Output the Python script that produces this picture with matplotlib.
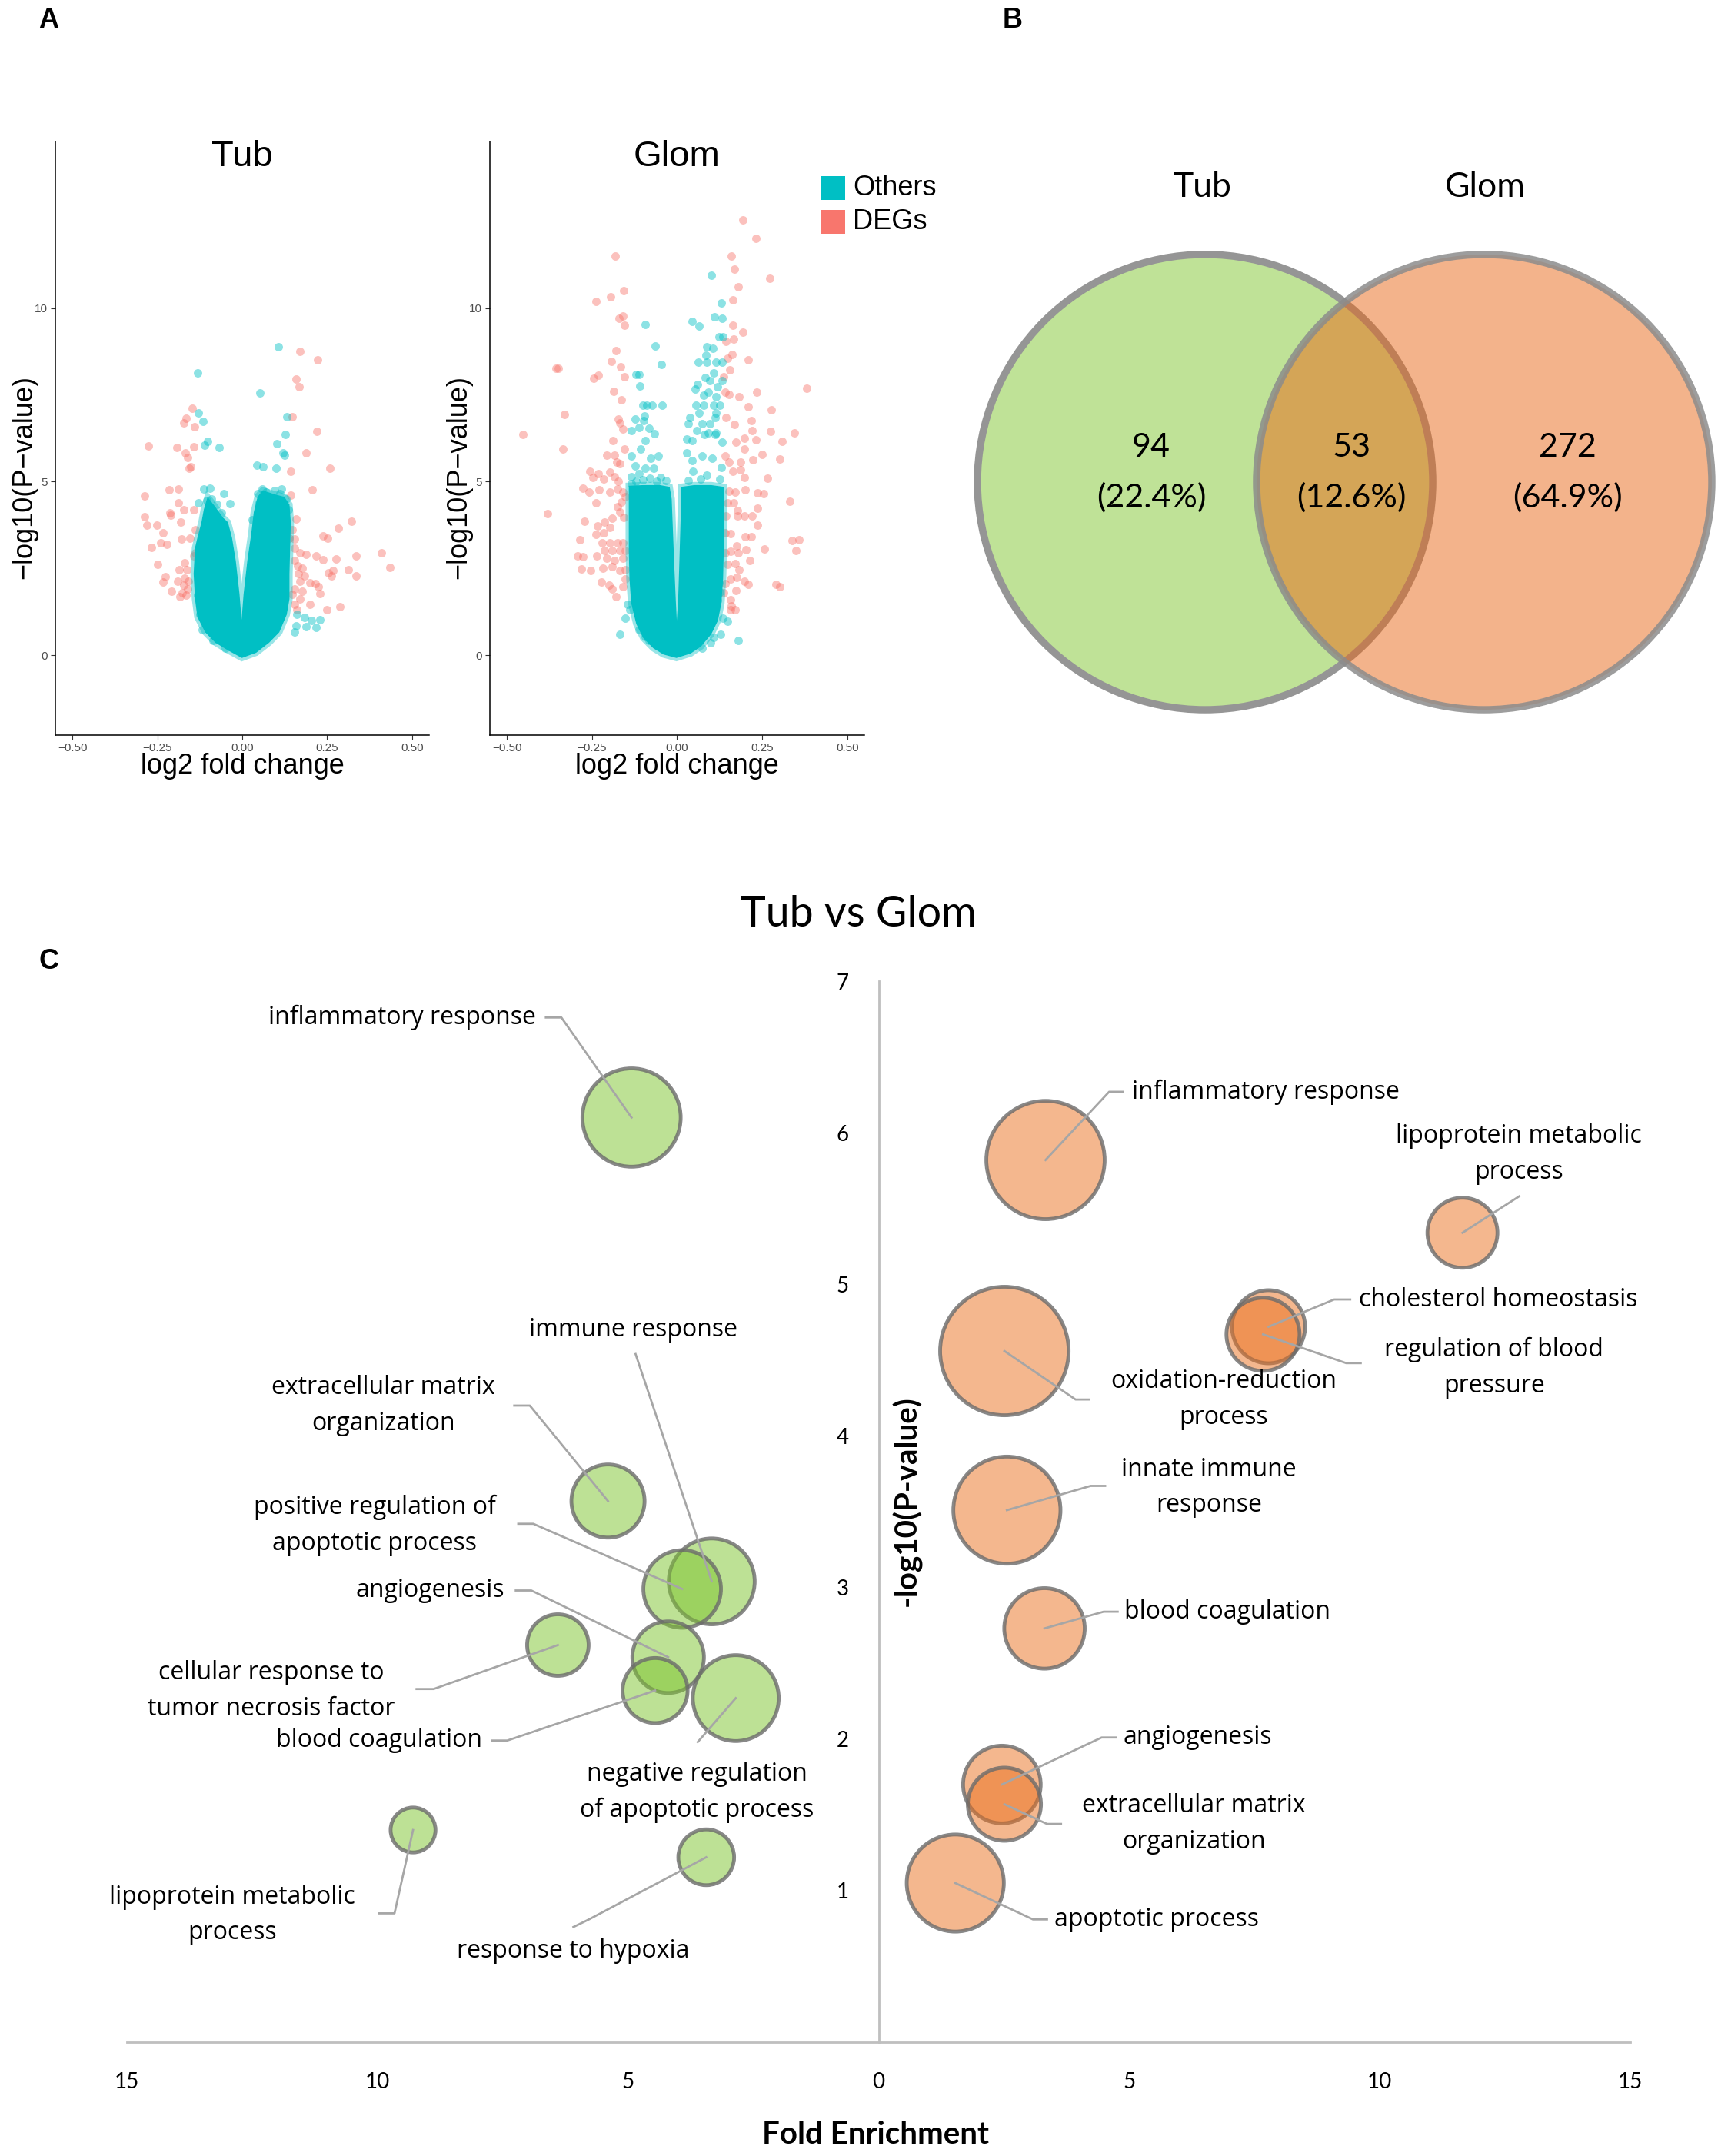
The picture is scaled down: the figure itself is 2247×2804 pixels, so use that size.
import numpy as np
import matplotlib.pyplot as plt
from matplotlib.patches import Circle, Rectangle
from matplotlib.ticker import FuncFormatter

plt.rcParams['font.family'] = ['Lato', 'DejaVu Sans']
plt.rcParams['axes.unicode_minus'] = True

# ---------------- A : volcano plots (log2FC, -log10 p) ----------------
# red = DEGs, cyan = others, "core" = outline of the dense cyan cloud
tub_deg = np.array([
    (0.170, 8.75), (0.221, 8.51), (0.158, 7.96), (0.167, 7.74), (0.146, 6.87), (0.219, 6.45),
    (0.188, 5.83), (0.258, 5.38), (0.143, 5.30), (0.207, 4.76), (0.143, 4.62), (0.159, 3.92),
    (0.321, 3.85), (0.282, 3.66), (0.237, 3.44), (0.252, 3.38), (0.410, 2.96), (0.336, 2.87),
    (0.276, 2.77), (0.218, 2.85), (0.238, 2.74), (0.154, 3.09), (0.169, 2.96), (0.188, 2.91),
    (0.434, 2.52), (0.313, 2.46), (0.268, 2.44), (0.253, 2.37), (0.263, 2.28), (0.334, 2.29),
    (0.154, 2.72), (0.162, 2.57), (0.176, 2.50), (0.165, 2.35), (0.184, 2.28), (0.199, 2.09),
    (0.214, 2.06), (0.225, 1.98), (0.169, 2.13), (0.154, 1.91), (0.176, 1.84), (0.228, 1.78),
    (0.199, 1.47), (0.250, 1.30), (0.287, 1.39), (0.154, 1.47), (0.169, 1.62), (0.146, 1.76),
    (0.161, 1.32), (0.146, 3.61), (0.154, 3.35), (0.139, 3.38),
    (-0.148, 7.11), (-0.166, 6.83), (-0.173, 6.69), (-0.141, 6.58), (-0.277, 6.03), (-0.192, 5.99),
    (-0.142, 6.00), (-0.168, 5.83), (-0.160, 5.69), (-0.152, 5.43), (-0.156, 5.38), (-0.214, 4.76),
    (-0.187, 4.79), (-0.288, 4.59), (-0.187, 4.40), (-0.172, 4.20), (-0.213, 4.11), (-0.210, 4.03),
    (-0.287, 3.99), (-0.281, 3.74), (-0.251, 3.74), (-0.181, 3.84), (-0.233, 3.52), (-0.178, 3.35),
    (-0.154, 3.37), (-0.241, 3.24), (-0.222, 3.20), (-0.267, 3.11), (-0.139, 2.94), (-0.143, 2.87),
    (-0.169, 2.67), (-0.248, 2.61), (-0.186, 2.46), (-0.163, 2.46), (-0.226, 2.26), (-0.233, 2.11),
    (-0.190, 2.13), (-0.169, 2.21), (-0.158, 2.13), (-0.173, 2.02), (-0.160, 1.91), (-0.209, 1.85),
    (-0.177, 1.80), (-0.184, 1.69), (-0.166, 1.73), (-0.139, 3.61), (-0.143, 4.20)])
tub_other = np.array([
    (0.106, 8.89), (-0.131, 8.13), (0.052, 7.55), (-0.128, 6.98), (-0.115, 6.74), (-0.102, 6.17),
    (-0.112, 6.04), (-0.069, 5.98), (0.131, 6.87), (0.126, 6.37), (0.102, 6.09), (0.120, 5.82),
    (0.124, 5.76), (0.042, 5.47), (0.060, 5.44), (0.100, 5.38), (0.058, 4.79), (0.045, 4.66),
    (0.095, 4.75), (0.116, 4.79), (-0.054, 4.66), (-0.036, 4.37), (-0.130, 4.40), (-0.094, 4.82),
    (-0.113, 4.79), (0.161, 1.17), (0.184, 1.10), (0.203, 0.99), (0.229, 1.02), (0.158, 0.84),
    (0.188, 0.82), (0.218, 0.79), (0.154, 0.66), (-0.132, 1.73), (-0.124, 1.17), (-0.117, 0.74),
    (-0.087, 0.43), (-0.049, 0.21), (-0.090, 4.50), (-0.075, 4.35), (-0.105, 4.45), (-0.060, 4.10),
    (0.070, 4.70), (0.085, 4.55), (0.110, 4.65), (0.130, 4.50), (0.135, 4.20), (0.050, 4.40),
    (0.030, 3.90)])
tub_core_x = [-0.001, -0.042, -0.079, -0.109, -0.132, -0.139, -0.143, -0.139, -0.132, -0.120, -0.113, -0.102,
              -0.079, -0.057, -0.042, -0.030, -0.019, -0.008, -0.002, 0.004, 0.015, 0.026, 0.034, 0.045,
              0.060, 0.094, 0.124, 0.139, 0.143, 0.141, 0.139, 0.139, 0.131, 0.109, 0.079, 0.041]
tub_core_y = [-0.08, 0.14, 0.36, 0.66, 1.10, 1.62, 2.35, 3.09, 3.38, 3.83, 4.20, 4.56,
              4.27, 3.97, 3.83, 3.38, 2.72, 1.76, 1.02, 1.76, 2.72, 3.46, 4.12, 4.56,
              4.75, 4.64, 4.56, 4.34, 3.83, 3.09, 2.35, 1.62, 1.17, 0.66, 0.36, 0.07]

glom_deg = np.array([
    (-0.182, 11.50), (-0.157, 10.50), (-0.195, 10.32), (-0.239, 10.19), (-0.170, 9.71), (-0.159, 9.78),
    (-0.155, 9.51), (-0.180, 8.77), (-0.194, 8.47), (-0.165, 8.30), (-0.350, 8.27), (-0.356, 8.27),
    (-0.231, 8.06), (-0.246, 7.97), (-0.155, 8.02), (-0.186, 7.61), (-0.164, 7.35), (-0.332, 6.94),
    (-0.453, 6.36), (-0.173, 6.81), (-0.168, 6.70), (-0.160, 6.52),
    (0.192, 12.53), (0.232, 12.01), (0.160, 11.49), (0.169, 11.13), (0.272, 10.85), (0.179, 10.61),
    (0.163, 10.24), (0.164, 9.51), (0.192, 9.31), (0.165, 9.11), (0.143, 9.03), (0.162, 8.66),
    (0.147, 8.55), (0.208, 8.52), (0.155, 8.22), (0.137, 8.02), (0.380, 7.70), (0.233, 7.59),
    (0.182, 7.44), (0.141, 7.59), (0.152, 7.51), (0.210, 7.16), (0.276, 7.06), (0.143, 6.84),
    (0.168, 6.64), (0.218, 6.75), (0.220, 6.48), (0.274, 6.44), (0.344, 6.41), (0.664, 5.61),
    (-0.335, 5.95), (-0.189, 6.19), (-0.155, 5.94), (-0.206, 5.77), (-0.185, 5.77), (-0.178, 5.56),
    (-0.168, 5.52), (-0.381, 4.08), (-0.257, 5.30), (-0.247, 5.12), (-0.232, 5.23), (-0.215, 5.08),
    (-0.198, 5.27), (-0.277, 4.81), (-0.258, 4.71), (-0.230, 4.76), (-0.198, 4.71), (-0.239, 4.40),
    (-0.183, 5.15), (-0.172, 5.01), (-0.176, 4.79), (-0.160, 4.71), (-0.153, 4.57), (-0.164, 4.42),
    (-0.176, 4.27), (-0.168, 4.12), (-0.157, 3.97), (-0.272, 3.85), (-0.234, 3.73), (-0.213, 3.83),
    (-0.191, 3.94), (-0.239, 3.49), (-0.215, 3.53), (-0.198, 3.68), (-0.285, 3.33), (-0.221, 3.24),
    (-0.198, 3.24), (-0.176, 3.24), (-0.160, 3.24), (-0.213, 3.02), (-0.191, 3.02), (-0.168, 3.02),
    (-0.153, 3.02), (-0.292, 2.85), (-0.277, 2.83), (-0.236, 2.85), (-0.206, 2.79), (-0.183, 2.72),
    (-0.160, 2.79), (-0.281, 2.48), (-0.253, 2.45), (-0.217, 2.50), (-0.191, 2.54), (-0.168, 2.43),
    (-0.153, 2.46), (-0.222, 2.11), (-0.200, 2.03), (-0.191, 1.91), (-0.179, 1.69), (-0.160, 1.98),
    (-0.153, 2.20),
    (0.173, 6.15), (0.197, 6.26), (0.232, 6.21), (0.308, 6.17), (0.197, 5.94), (0.250, 5.78),
    (0.302, 5.66), (0.223, 5.62), (0.141, 5.74), (0.152, 5.56), (0.186, 5.56), (0.163, 5.30),
    (0.186, 5.34), (0.197, 5.12), (0.265, 5.10), (0.152, 4.73), (0.171, 4.71), (0.201, 4.76),
    (0.237, 4.67), (0.253, 4.65), (0.332, 4.43), (0.148, 4.38), (0.167, 4.38), (0.236, 4.23),
    (0.178, 4.17), (0.144, 4.01), (0.177, 4.01), (0.197, 4.01), (0.220, 4.01), (0.235, 3.74),
    (0.141, 3.52), (0.158, 3.50), (0.201, 3.41), (0.218, 3.42), (0.338, 3.31), (0.357, 3.33),
    (0.175, 3.16), (0.141, 2.96), (0.156, 3.00), (0.180, 2.94), (0.202, 3.04), (0.257, 3.07),
    (0.350, 3.02), (0.214, 2.72), (0.148, 2.61), (0.171, 2.65), (0.182, 2.46), (0.156, 2.20),
    (0.176, 2.24), (0.197, 2.13), (0.208, 2.04), (0.141, 2.06), (0.291, 2.04), (0.302, 1.97),
    (0.173, 1.87), (0.137, 1.80), (0.158, 1.59), (0.159, 1.43), (0.156, 1.30), (0.171, 1.30)])
glom_other = np.array([
    (-0.094, 9.52), (-0.065, 8.91), (-0.046, 8.37), (-0.121, 8.09), (-0.112, 8.09), (-0.109, 7.75),
    (-0.100, 7.21), (-0.089, 7.21), (-0.074, 7.21), (-0.044, 7.21), (-0.095, 6.90), (-0.124, 6.80),
    (-0.098, 6.75), (-0.083, 6.54), (-0.134, 6.47), (-0.112, 6.57), (-0.066, 6.39),
    (0.100, 10.94), (0.129, 10.15), (0.110, 9.75), (0.132, 9.71), (0.044, 9.62), (0.065, 9.48),
    (0.124, 9.17), (0.135, 9.17), (0.086, 8.88), (0.105, 8.84), (0.084, 8.64), (0.063, 8.44),
    (0.086, 8.44), (0.113, 8.44), (0.132, 8.44), (0.108, 8.13), (0.082, 7.99), (0.095, 7.92),
    (0.118, 7.74), (0.132, 7.92), (0.052, 7.66), (0.059, 7.81), (0.077, 7.48), (0.092, 7.59),
    (0.114, 7.44), (0.056, 7.20), (0.079, 7.20), (0.107, 7.20), (0.126, 7.20), (0.064, 6.98),
    (0.114, 6.98), (0.038, 6.84), (0.032, 6.67), (0.073, 6.67), (0.096, 6.67), (0.111, 6.85),
    (0.058, 6.48), (0.092, 6.41), (0.114, 6.41),
    (-0.168, 0.60), (-0.153, 1.06), (-0.138, 1.32), (-0.145, 1.47), (-0.112, 0.74), (-0.093, 0.54),
    (-0.082, 0.43), (-0.134, 5.74), (-0.123, 5.45), (-0.134, 5.15), (-0.108, 5.93), (-0.093, 6.19),
    (-0.078, 5.67), (-0.055, 5.74), (-0.070, 5.38), (-0.048, 5.12), (-0.033, 5.04), (-0.093, 5.38),
    (-0.112, 5.23), (-0.120, 5.00), (-0.100, 5.05), (-0.060, 5.00), (-0.135, 4.95), (-0.080, 5.10),
    (0.180, 0.42), (0.148, 0.97), (0.135, 1.06), (0.127, 0.60), (0.099, 0.36), (0.073, 0.21),
    (0.107, 0.51), (0.118, 1.58), (0.126, 1.83), (0.122, 2.09), (0.028, 6.22), (0.043, 6.19),
    (0.080, 6.37), (0.111, 6.37), (0.133, 6.15), (0.028, 5.82), (0.043, 5.60), (0.073, 5.74),
    (0.103, 5.67), (0.129, 5.41), (0.047, 5.30), (0.088, 5.19), (0.126, 5.08), (0.032, 5.04),
    (0.069, 5.08)])
glom_core_x = [-0.002, -0.04, -0.07, -0.10, -0.12, -0.135, -0.14, -0.142, -0.142, -0.142, -0.142, -0.10,
               -0.05, -0.022, -0.016, -0.012, -0.008, -0.004, -0.001, 0.003, 0.006, 0.009, 0.012, 0.012,
               0.05, 0.10, 0.137, 0.138, 0.137, 0.135, 0.13, 0.12, 0.10, 0.07, 0.04]
glom_core_y = [-0.08, 0.02, 0.2, 0.5, 0.9, 1.5, 2.2, 3.0, 3.8, 4.5, 4.88, 4.9,
               4.9, 4.85, 4.5, 3.5, 2.5, 1.6, 1.0, 1.6, 2.5, 3.5, 4.5, 4.85,
               4.9, 4.9, 4.85, 4.0, 3.0, 2.2, 1.5, 1.0, 0.6, 0.25, 0.05]
vol_xticks = [-0.50, -0.25, 0.00, 0.25, 0.50]
vol_yticks = [0, 5, 10]

# ---------------- B : venn counts ----------------
venn_names = ['Tub', 'Glom']
venn_counts = [94, 53, 272]   # Tub only, both, Glom only

# ---------------- C : GO terms (fold enrichment, -log10 p, gene count) ----------------
tub_terms = ['inflammatory response', 'extracellular matrix\norganization', 'immune response',
             'positive regulation of\napoptotic process', 'angiogenesis',
             'cellular response to\ntumor necrosis factor', 'blood coagulation',
             'negative regulation\nof apoptotic process', 'lipoprotein metabolic\nprocess',
             'response to hypoxia']
tub_fe = [4.93, 5.40, 3.33, 3.92, 4.20, 6.40, 4.46, 2.85, 9.29, 3.44]
tub_logp = [6.10, 3.57, 3.04, 2.99, 2.54, 2.62, 2.32, 2.27, 1.40, 1.22]
tub_count = [44, 25, 34, 28, 24, 18, 20, 34, 10, 15]

glom_terms = ['inflammatory response', 'lipoprotein metabolic\nprocess', 'cholesterol homeostasis',
              'regulation of blood\npressure', 'oxidation-reduction\nprocess', 'innate immune\nresponse',
              'blood coagulation', 'angiogenesis', 'extracellular matrix\norganization',
              'apoptotic process']
glom_fe = [3.33, 11.65, 7.78, 7.67, 2.51, 2.56, 3.31, 2.46, 2.51, 1.53]
glom_logp = [5.82, 5.34, 4.72, 4.67, 4.56, 3.51, 2.73, 1.70, 1.57, 1.05]
glom_count = [63, 23, 25, 25, 74, 52, 30, 28, 25, 43]

# label placement (x, y, ha) and leader-line elbows, same order as the terms
tub_lab = [(-6.84, 6.76, 'right'), (-9.88, 4.20, 'center'), (-4.89, 4.70, 'center'),
           (-10.06, 3.41, 'center'), (-7.47, 2.98, 'right'), (-12.12, 2.32, 'center'),
           (-7.91, 1.99, 'right'), (-3.63, 1.65, 'center'), (-12.90, 0.84, 'center'),
           (-6.10, 0.60, 'center')]
tub_leader = [[(-6.64, 6.76), (-6.33, 6.76)], [(-7.27, 4.20), (-6.96, 4.20)], [(-4.85, 4.54)],
              [(-7.19, 3.42), (-6.89, 3.42)], [(-7.24, 2.98), (-6.93, 2.98)],
              [(-9.22, 2.33), (-8.88, 2.33)], [(-7.71, 1.99), (-7.41, 1.99)], [(-3.61, 1.98)],
              [(-9.97, 0.85), (-9.66, 0.85)], [(-6.09, 0.76), (-5.78, 0.81)]]
glom_lab = [(5.05, 6.27, 'left'), (12.78, 5.86, 'center'), (9.58, 4.90, 'left'),
            (12.28, 4.45, 'center'), (6.89, 4.24, 'center'), (6.59, 3.66, 'center'),
            (4.91, 2.84, 'left'), (4.88, 2.01, 'left'), (6.29, 1.44, 'center'), (3.51, 0.81, 'left')]
glom_leader = [[(4.88, 6.27), (4.60, 6.27)], [(12.78, 5.58)], [(9.41, 4.90), (9.09, 4.90)],
               [(9.62, 4.48), (9.33, 4.48)], [(4.20, 4.24), (3.93, 4.24)], [(4.52, 3.67), (4.23, 3.67)],
               [(4.77, 2.84), (4.49, 2.84)], [(4.74, 2.01), (4.45, 2.01)], [(3.64, 1.44), (3.36, 1.44)],
               [(3.36, 0.81), (3.08, 0.81)]]


W, H = 2247, 2804
fig = plt.figure(figsize=(W / 100, H / 100), dpi=100)


def box(x0, y0, x1, y1):
    # pixel box (top-left origin) -> figure fraction
    return [x0 / W, 1 - y1 / H, (x1 - x0) / W, (y1 - y0) / H]


ARIAL = ['Liberation Sans', 'DejaVu Sans']


def volcano(pos, title, deg, other, core_x, core_y):
    ax = fig.add_axes(pos)
    ax.scatter(deg[:, 0], deg[:, 1], s=62, color='#F8766D', alpha=0.45, linewidths=0, zorder=2)
    ax.fill(core_x, core_y, facecolor='#00BFC4', edgecolor=(0, 0.75, 0.77, 0.4), linewidth=6, zorder=3)
    ax.scatter(other[:, 0], other[:, 1], s=62, color='#00BFC4', alpha=0.45, linewidths=0, zorder=4)
    ax.set_xlim(-0.55, 0.55)
    ax.set_ylim(-2.3, 14.8)
    ax.set_xticks(vol_xticks)
    ax.set_xticklabels([f'{v:.2f}'.replace('-', '\u2212') for v in vol_xticks])
    ax.set_yticks(vol_yticks)
    for s in ['top', 'right']:
        ax.spines[s].set_visible(False)
    for s in ['left', 'bottom']:
        ax.spines[s].set_linewidth(1.1)
    ax.tick_params(length=4, width=0.8, color='#333333', labelsize=11, labelcolor='#4D4D4D',
                   pad=3, labelfontfamily='Liberation Sans')
    ax.set_xlabel('log2 fold change', fontsize=26, family=ARIAL, va='center')
    ax.xaxis.set_label_coords(0.5, -0.053)
    ax.set_ylabel('\u2212log10(P\u2212value)', fontsize=26, family=ARIAL, va='center')
    ax.yaxis.set_label_coords(-0.082, 0.435)
    ax.text(0.5, 0.974, title, transform=ax.transAxes, ha='center', va='center',
            fontsize=34, family=ARIAL)
    return ax


volcano(box(72, 184, 558, 956), 'Tub', tub_deg, tub_other, tub_core_x, tub_core_y)
volcano(box(637, 184, 1124, 956), 'Glom', glom_deg, glom_other, glom_core_x, glom_core_y)

# legend
for yy, col, name in [(229, '#00BFC4', 'Others'), (273, '#F8766D', 'DEGs')]:
    fig.add_artist(Rectangle((1068 / W, 1 - (yy + 31) / H), 31 / W, 31 / H,
                             transform=fig.transFigure, color=col, lw=0))
    fig.text(1109 / W, 1 - (yy + 15) / H, name, fontsize=26, family=ARIAL, va='center')

# ---------------- B ----------------
axv = fig.add_axes(box(1250, 150, 2247, 1000))
axv.set_xlim(-1.684, 1.684)
axv.set_ylim(-1.260, 1.611)
axv.axis('off')
axv.add_patch(Circle((-0.613, 0), 1, facecolor='#BFE297', edgecolor='#959595', lw=6.8))
axv.add_patch(Circle((0.613, 0), 1, facecolor=(233 / 255, 105 / 255, 25 / 255, 0.5),
                     edgecolor=(0.55, 0.55, 0.55, 0.85), lw=6.8))
axv.text(-0.627, 1.294, venn_names[0], fontsize=32, ha='center', va='center')
axv.text(0.617, 1.294, venn_names[1], fontsize=32, ha='center', va='center')
total = sum(venn_counts)
for xx, n in zip([-0.85, 0.03, 0.98], venn_counts):
    axv.text(xx, 0.152, str(n), fontsize=31, ha='center', va='center')
    axv.text(xx, -0.068, f'({n / total * 100:.1f}%)', fontsize=31, ha='center', va='center')

# ---------------- C ----------------
axc = fig.add_axes(box(165, 1276, 2120, 2656))
axc.set_xlim(-15, 15)
axc.set_ylim(0, 7)
for s in ['top', 'right']:
    axc.spines[s].set_visible(False)
axc.spines['left'].set_position(('data', 0))
for s in ['left', 'bottom']:
    axc.spines[s].set_color('#BFBFBF')
    axc.spines[s].set_linewidth(2)
axc.set_xticks([-15, -10, -5, 0, 5, 10, 15])
axc.xaxis.set_major_formatter(FuncFormatter(lambda v, p: f'{abs(v):.0f}'))
axc.set_yticks([1, 2, 3, 4, 5, 6, 7])
axc.tick_params(axis='x', length=0, labelsize=20, pad=28)
axc.tick_params(axis='y', length=0, labelsize=20, pad=28)
axc.set_xlabel('Fold Enrichment', fontsize=29, fontweight='bold', va='center')
axc.xaxis.set_label_coords(0.4977, -0.087)
axc.set_ylabel('-log10(P-value)', fontsize=29, fontweight='bold', va='center')
axc.yaxis.set_label_coords(0.5187, 0.51)

green = (125 / 255, 197 / 255, 45 / 255, 0.5)
orange = (235 / 255, 112 / 255, 30 / 255, 0.5)
edge = (0.42, 0.42, 0.42, 0.8)


def bubble_s(counts):
    r = 10 * np.sqrt(np.array(counts))        # outer radius in px
    return ((2 * r - 4.9) * 0.72) ** 2


axc.scatter(-np.array(tub_fe), tub_logp, s=bubble_s(tub_count), facecolors=[green],
            edgecolors=[edge], linewidths=3.5, zorder=2)
axc.scatter(glom_fe, glom_logp, s=bubble_s(glom_count), facecolors=[orange],
            edgecolors=[edge], linewidths=3.5, zorder=2)

for terms, xs, ys, labs, leads in [(tub_terms, -np.array(tub_fe), tub_logp, tub_lab, tub_leader),
                                   (glom_terms, glom_fe, glom_logp, glom_lab, glom_leader)]:
    for t, bx, by, (tx, ty, ha), pts in zip(terms, xs, ys, labs, leads):
        lx = [p[0] for p in pts] + [bx]
        ly = [p[1] for p in pts] + [by]
        axc.plot(lx, ly, color='#A6A6A6', lw=2, zorder=3)
        axc.text(tx, ty, t, fontsize=23, family=['Open Sans', 'DejaVu Sans'], ha=ha, va='center',
                 multialignment='center', linespacing=1.55, zorder=4)

fig.text(1116 / W, 1 - 1190 / H, 'Tub vs Glom', fontsize=40, ha='center', va='center')

# panel letters
for lab, xx, yy in [('A', 63, 27), ('B', 1317, 27), ('C', 63, 1251)]:
    fig.text(xx / W, 1 - yy / H, lab, fontsize=26, fontweight='bold', family=ARIAL,
             ha='center', va='center')

fig.savefig('out.png', dpi=100)
